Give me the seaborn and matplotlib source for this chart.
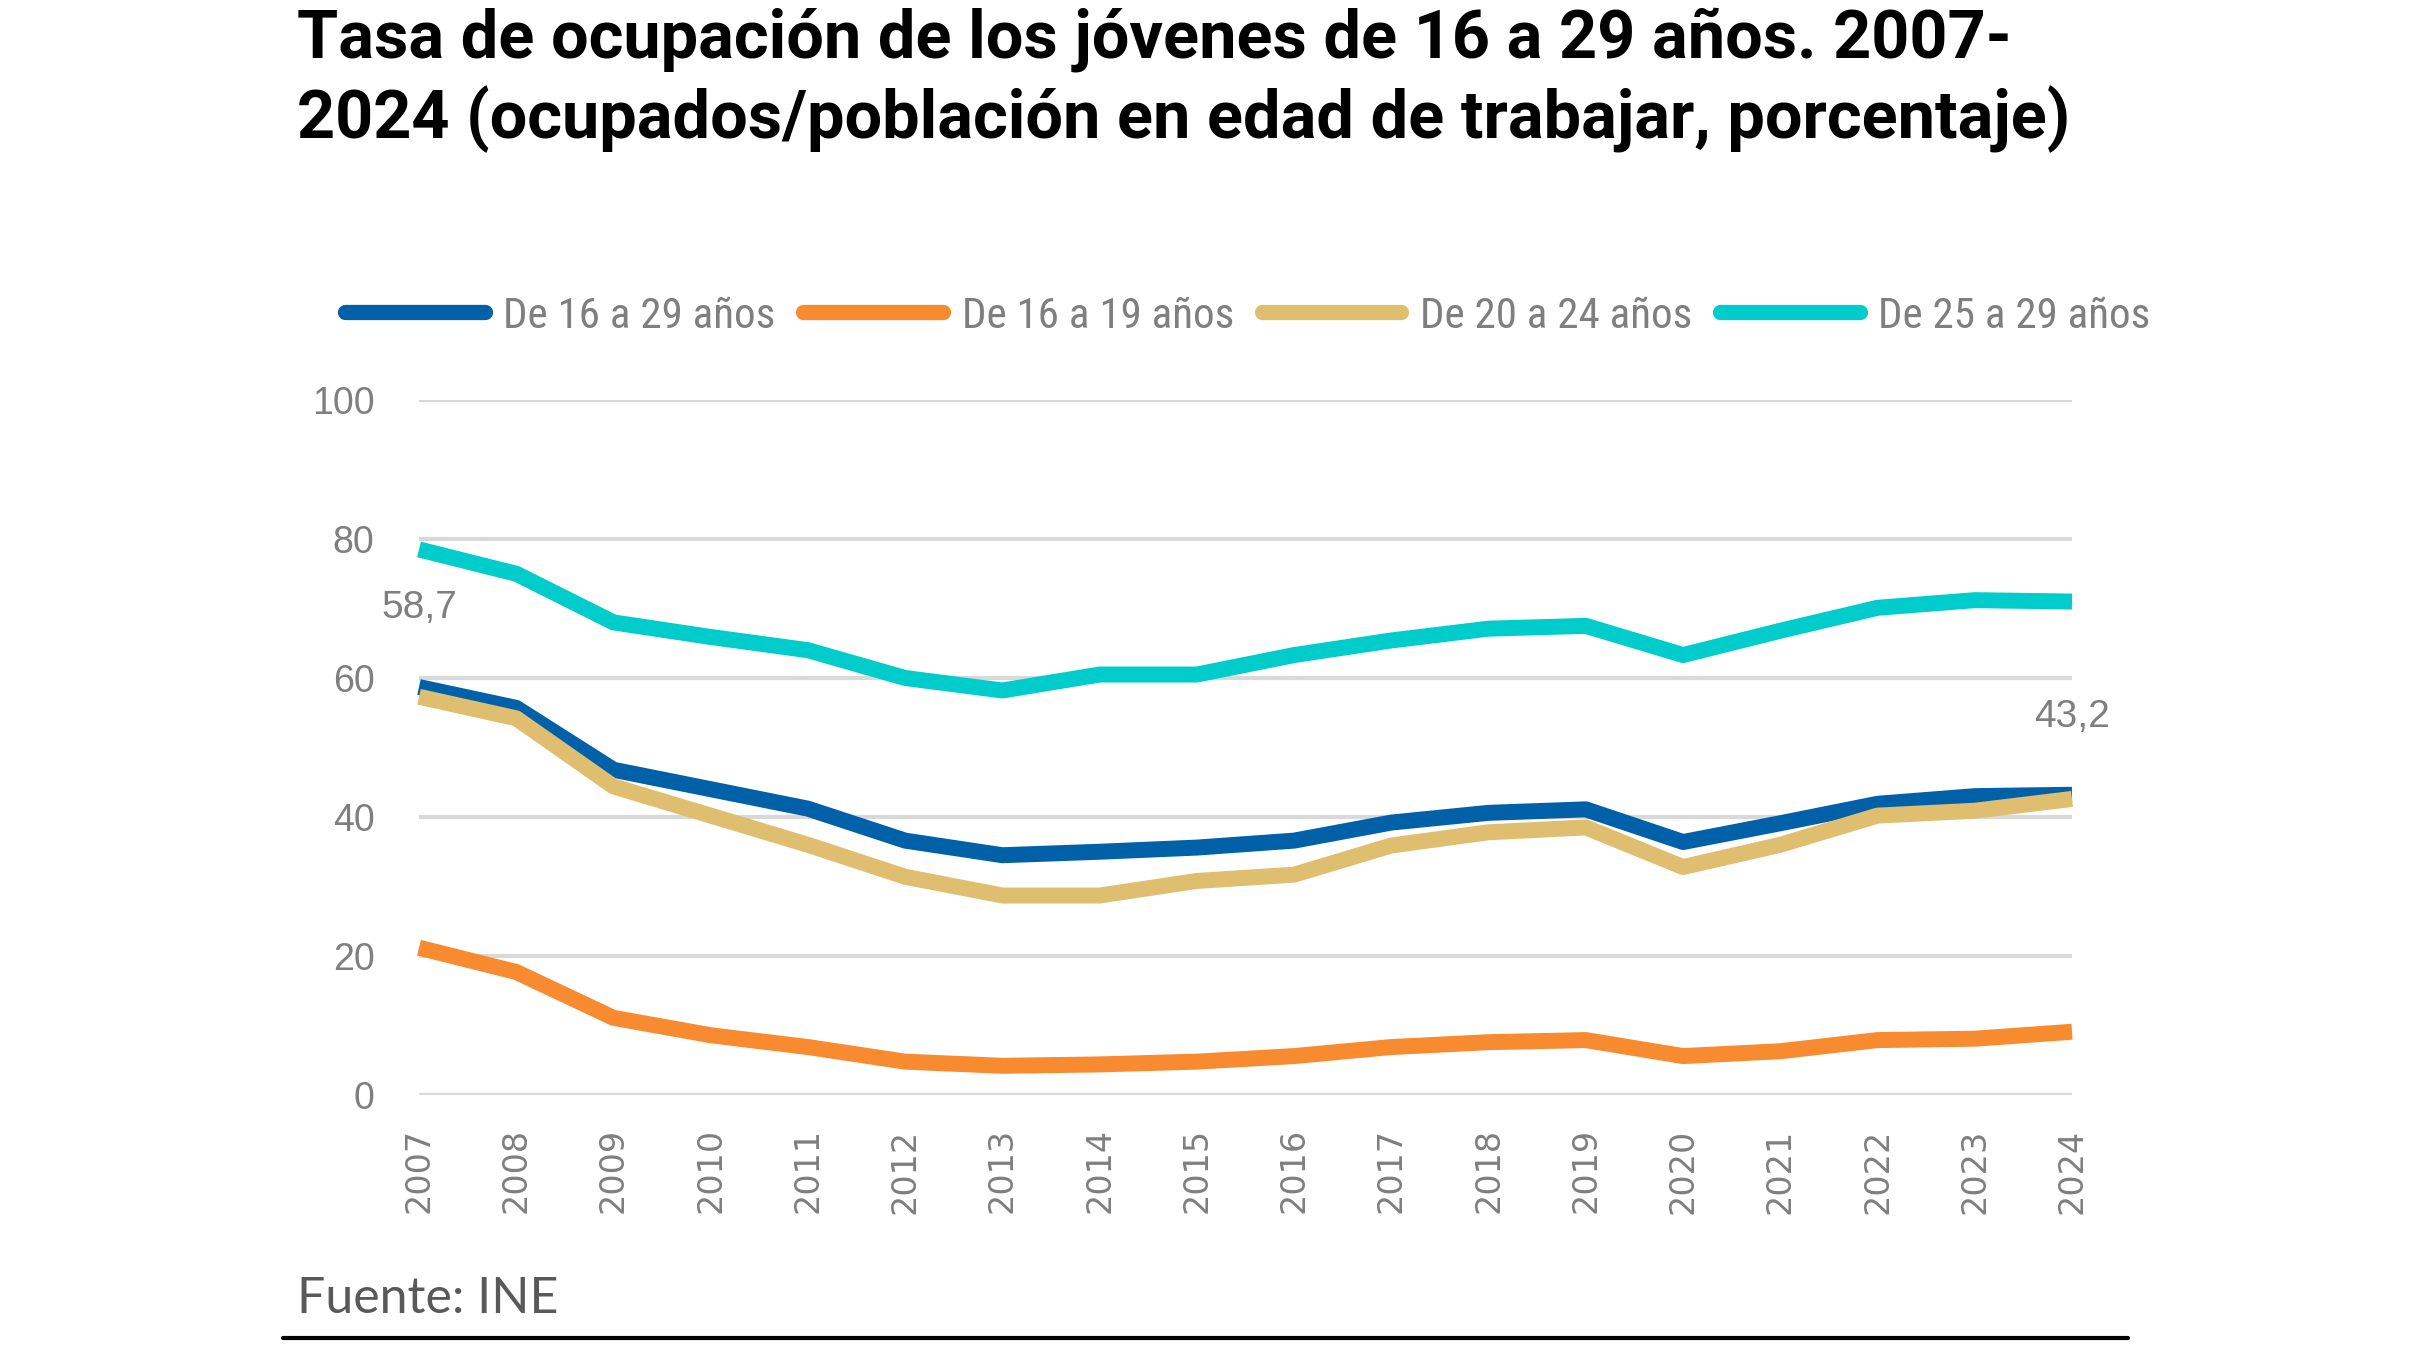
import pandas as pd
import matplotlib.pyplot as plt
import seaborn as sns

years = list(range(2007, 2025))
series_names = ["De 16 a 29 años", "De 16 a 19 años", "De 20 a 24 años", "De 25 a 29 años"]

val_16_29 = [58.7, 55.7, 46.8, 44.0, 41.2, 36.6, 34.5, 35.0, 35.6, 36.6,
             39.2, 40.6, 41.1, 36.4, 39.1, 41.9, 43.0, 43.2]
val_16_19 = [21.2, 17.7, 11.1, 8.6, 6.9, 4.8, 4.2, 4.4, 4.8, 5.6,
             6.9, 7.6, 7.9, 5.6, 6.3, 7.9, 8.1, 9.1]
val_20_24 = [57.3, 54.2, 44.4, 40.2, 36.0, 31.4, 28.7, 28.7, 30.8, 31.7,
             35.9, 37.8, 38.5, 32.8, 36.0, 40.2, 40.9, 42.6]
val_25_29 = [78.5, 75.0, 68.0, 65.9, 64.0, 60.0, 58.2, 60.5, 60.5, 63.3,
             65.4, 67.1, 67.5, 63.3, 66.8, 70.1, 71.2, 71.0]

colors = ["#0061A8", "#F88A2F", "#E0BE70", "#00CCCC"]
label_first = "58,7"
label_last = "43,2"

df = pd.DataFrame({
    "Año": years * 4,
    "Serie": [n for n in series_names for _ in years],
    "Valor": val_16_29 + val_16_19 + val_20_24 + val_25_29,
})

sns.set_style("white")
plt.rcParams["font.family"] = ["Liberation Sans", "DejaVu Sans"]
grey = "#7F7F7F"
narrow = ["Liberation Sans Narrow", "Roboto Condensed", "Roboto", "DejaVu Sans"]

W, H = 2423, 1353
fig = plt.figure(figsize=(W / 100, H / 100), dpi=100)
left, right, bottom, top = 419 / W, 2072 / W, 1 - 1095 / H, 1 - 400 / H
ax = fig.add_axes([left, bottom, right - left, top - bottom])

sns.lineplot(data=df, x="Año", y="Valor", hue="Serie", hue_order=series_names,
             palette=colors, linewidth=11.5, ax=ax, legend=False,
             solid_capstyle="butt", clip_on=False)

ax.set_xlim(2007, 2024)
ax.set_ylim(0, 100)
ax.set_yticks(range(0, 101, 20))
ax.set_xticks(years)
ax.set_xticklabels([str(y) for y in years], rotation=90, fontsize=24,
                   color=grey, family="DejaVu Sans")
ax.tick_params(axis="y", labelsize=27, labelcolor=grey, pad=32, length=0)
ax.tick_params(axis="x", pad=24, length=0)
ax.yaxis.grid(True, color="#D9D9D9", linewidth=3)
ax.set_axisbelow(True)
for s in ax.spines.values():
    s.set_visible(False)
ax.set_xlabel("")
ax.set_ylabel("")

ax.text(2007, 70.1, label_first, fontsize=28, color=grey, ha="center", va="center")
ax.text(2024, 54.4, label_last, fontsize=28, color=grey, ha="center", va="center")

handles = [plt.Line2D([], [], color=c, linewidth=11, solid_capstyle="round") for c in colors]
fig.legend(handles, series_names, loc="center left",
           bbox_to_anchor=(345 / W, 1 - 316 / H), borderaxespad=0, borderpad=0,
           ncol=4, frameon=False, handlelength=3.25, handletextpad=0.43,
           columnspacing=0.64, labelcolor=grey,
           prop={"family": narrow, "size": 31})

fig.text(297 / W, 1 - 58 / H, "Tasa de ocupación de los jóvenes de 16 a 29 años. 2007-",
         fontsize=48, fontweight="bold", color="black", ha="left", va="baseline",
         family=["Roboto", "DejaVu Sans"])
fig.text(297 / W, 1 - 138 / H, "2024 (ocupados/población en edad de trabajar, porcentaje)",
         fontsize=48, fontweight="bold", color="black", ha="left", va="baseline",
         family=["Roboto", "DejaVu Sans"])

fig.text(297 / W, 1 - 1313 / H, "Fuente: INE", fontsize=36, color="#595959",
         ha="left", va="baseline", family=["Lato", "DejaVu Sans"])
fig.add_artist(plt.Line2D([283 / W, 2128 / W], [1 - 1338 / H] * 2,
                          color="black", linewidth=3))

fig.savefig("out.png", dpi=100)
